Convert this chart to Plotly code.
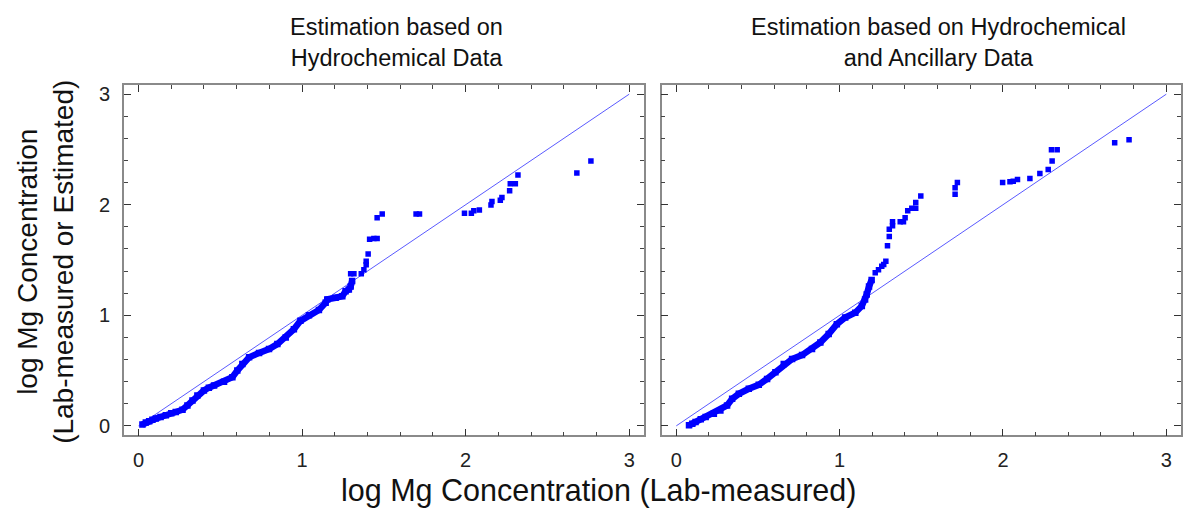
import plotly.graph_objects as go

# ---------------- data ----------------
# Left panel: estimation based on hydrochemical data
left_dense_x = [0.024, 0.045, 0.065, 0.085, 0.106, 0.135, 0.167, 0.2, 0.228, 0.269, 0.299, 0.33, 0.36, 0.40,
                0.43, 0.462, 0.523, 0.574, 0.604, 0.635, 0.676, 0.737, 0.798, 0.849, 0.90, 0.95, 0.99,
                1.042, 1.103, 1.144, 1.154, 1.205, 1.246, 1.266, 1.286, 1.297, 1.306]
left_dense_y = [0.012, 0.03, 0.041, 0.055, 0.066, 0.08, 0.095, 0.115, 0.126, 0.146, 0.185, 0.23, 0.275, 0.32,
                0.345, 0.365, 0.40, 0.44, 0.50, 0.56, 0.62, 0.66, 0.695, 0.74, 0.80, 0.874, 0.95,
                1.0, 1.048, 1.114, 1.144, 1.159, 1.173, 1.218, 1.234, 1.26, 1.31]
left_sparse_x = [1.297, 1.317, 1.362, 1.378, 1.392, 1.392, 1.404, 1.413, 1.439, 1.459, 1.459, 1.49,
                 1.697, 1.718, 1.993, 2.035, 2.05, 2.084, 2.155, 2.161, 2.212, 2.222, 2.269, 2.273,
                 2.304, 2.32, 2.68, 2.766]
left_sparse_y = [1.377, 1.377, 1.377, 1.413, 1.458, 1.488, 1.554, 1.689, 1.695, 1.695, 1.883, 1.916,
                 1.916, 1.916, 1.922, 1.922, 1.946, 1.952, 1.997, 2.03, 2.04, 2.066, 2.126, 2.19,
                 2.19, 2.27, 2.288, 2.395]

# Right panel: estimation based on hydrochemical and ancillary data
right_dense_x = [0.078, 0.098, 0.118, 0.15, 0.18, 0.23, 0.27, 0.311, 0.342, 0.383, 0.444, 0.505, 0.556,
                 0.607, 0.658, 0.709, 0.77, 0.831, 0.882, 0.933, 0.983, 1.034, 1.096, 1.136, 1.156,
                 1.166, 1.18, 1.196]
right_dense_y = [0.005, 0.02, 0.036, 0.06, 0.081, 0.11, 0.14, 0.185, 0.245, 0.29, 0.335, 0.371, 0.425,
                 0.485, 0.56, 0.605, 0.64, 0.695, 0.755, 0.83, 0.92, 0.98, 1.024, 1.084, 1.144,
                 1.189, 1.26, 1.32]
right_sparse_x = [1.218, 1.238, 1.258, 1.27, 1.283, 1.293, 1.304, 1.304, 1.324, 1.324, 1.371, 1.391,
                  1.401, 1.417, 1.442, 1.466, 1.466, 1.497, 1.707, 1.707, 1.721, 1.998, 2.043, 2.063,
                  2.089, 2.165, 2.226, 2.277, 2.301, 2.297, 2.332, 2.684, 2.772]
right_sparse_y = [1.384, 1.413, 1.443, 1.46, 1.488, 1.629, 1.713, 1.779, 1.809, 1.847, 1.847, 1.847,
                  1.883, 1.946, 1.968, 1.968, 2.02, 2.078, 2.096, 2.153, 2.201, 2.201, 2.207, 2.213,
                  2.228, 2.237, 2.282, 2.318, 2.395, 2.498, 2.498, 2.561, 2.588]

line_x = [0, 3]
line_y = [0, 3]

tick_vals = [0, 1, 2, 3]
tick_text = ["0", "1", "2", "3"]

panel_titles = ["Estimation based on<br>Hydrochemical Data",
                "Estimation based on Hydrochemical<br>and Ancillary Data"]
x_title = "log Mg Concentration (Lab-measured)"
y_title = "log Mg Concentration<br>(Lab-measured or Estimated)"

# ---------------- figure ----------------
W, H = 1183, 509
FONT = "Liberation Sans, Arial, Helvetica, sans-serif"
PT = "#0000ff"
LINE = "rgb(90,90,255)"

fig = go.Figure()

panels = [
    ("x", "y", left_dense_x, left_dense_y, left_sparse_x, left_sparse_y),
    ("x2", "y2", right_dense_x, right_dense_y, right_sparse_x, right_sparse_y),
]
for xa, ya, dx, dy, sx, sy in panels:
    fig.add_trace(go.Scatter(x=line_x, y=line_y, xaxis=xa, yaxis=ya, mode="lines",
                             line=dict(color=LINE, width=1), showlegend=False, hoverinfo="skip"))
    fig.add_trace(go.Scatter(x=dx, y=dy, xaxis=xa, yaxis=ya, mode="lines+markers",
                             line=dict(color=PT, width=6.5),
                             marker=dict(symbol="square", size=6.5, color=PT, line=dict(width=0)),
                             showlegend=False))
    fig.add_trace(go.Scatter(x=sx, y=sy, xaxis=xa, yaxis=ya, mode="markers",
                             marker=dict(symbol="square", size=5.5, color=PT, line=dict(width=0)),
                             showlegend=False))

axis_common = dict(
    showgrid=False, zeroline=False,
    showline=True, linecolor="#8a8a8a", linewidth=1.5, mirror="allticks",
    ticks="inside", ticklen=7, tickwidth=1, tickcolor="#333",
    tickvals=tick_vals, ticktext=tick_text,
    tickfont=dict(family=FONT, size=20, color="#222"),
    minor=dict(ticks="inside", ticklen=4, tickwidth=1, tickcolor="#444", dtick=0.2, tick0=0,
               showgrid=False),
)

x_rng = [-0.09, 3.09]
y_rng = [-0.085, 3.08]
y_dom = [1 - 436.7 / H, 1 - 84 / H]

fig.update_layout(
    width=W, height=H,
    margin=dict(l=0, r=0, t=0, b=0),
    paper_bgcolor="white", plot_bgcolor="white",
    xaxis=dict(axis_common, domain=[124 / W, 645 / W], range=x_rng, anchor="y", ticklabelstandoff=6),
    yaxis=dict(axis_common, domain=y_dom, range=y_rng, anchor="x", ticklabelstandoff=8),
    xaxis2=dict(axis_common, domain=[662.7 / W, 1.0], range=x_rng, anchor="y2", ticklabelstandoff=6),
    yaxis2=dict(axis_common, domain=y_dom, range=y_rng, anchor="x2", showticklabels=False),
)

annots = [
    dict(text=panel_titles[0], x=397 / W, y=1 - 40.5 / H, font=dict(size=23.5)),
    dict(text=panel_titles[1], x=940 / W, y=1 - 40.5 / H, font=dict(size=23.5)),
    dict(text=x_title, x=600 / W, y=1 - 492 / H, font=dict(size=30.5)),
    dict(text=y_title, x=46 / W, y=1 - 262 / H, font=dict(size=28)),
]
annots[3]["textangle"] = -90
for a in annots:
    a["font"].update(family=FONT, color="#111")
    fig.add_annotation(xref="paper", yref="paper", xanchor="center", yanchor="middle",
                       showarrow=False, **a)

fig.write_html("out.html")
